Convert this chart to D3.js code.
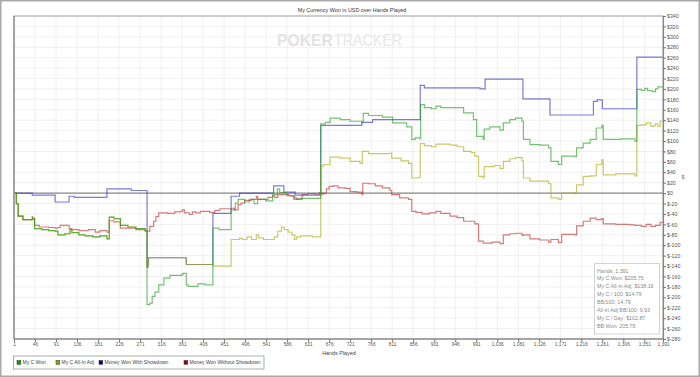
<!DOCTYPE html>
<html><head><meta charset="utf-8">
<script src="https://cdn.jsdelivr.net/npm/d3@7"></script>
<style>
html,body{margin:0;padding:0;background:#fff;}
svg{display:block;font-family:"Liberation Sans",Arial,sans-serif;}
</style></head>
<body>
<svg id="chart" width="700" height="377"></svg>
<script>
// ---------- DATA ----------
const chartTitle = "My Currency Won in USD over Hands Played";
const xTicks = [1,46,91,136,181,226,271,316,361,406,451,496,541,586,631,676,721,766,811,856,901,946,991,1036,1081,1126,1171,1216,1261,1306,1351,1391];
const yTicks = [340,320,300,280,260,240,220,200,180,160,140,120,100,80,60,40,20,0,-20,-40,-60,-80,-100,-120,-140,-160,-180,-200,-220,-240,-260,-280];
const seriesNames = ["My C Won","My C All-In Adj","Money Won With Showdown","Money Won Without Showdown"];

// My C Won: [hand, value]
const wonHands  = [1,6,10,20,41,45,60,75,89,95,110,121,125,140,153,170,185,200,205,215,229,245,262,282,286,292,297,303,311,322,335,361,363,370,374,395,410,427,440,466,475,481,495,505,515,523,540,555,565,570,585,600,610,640,658,668,678,700,721,746,749,760,790,810,812,842,853,860,871,872,880,895,905,915,950,964,985,992,1006,1008,1020,1042,1049,1063,1075,1089,1092,1106,1127,1146,1151,1167,1174,1203,1206,1220,1235,1248,1260,1263,1300,1331,1335,1345,1352,1358,1368,1375,1380,1391];
const wonValues = [0,-20,-44,-51,-49,-68,-70,-72,-73,-80,-78,-70,-76,-80,-82,-84,-82,-88,-46,-49,-62,-65,-68,-72,-214,-211,-198,-190,-176,-163,-158,-156,-154,-176,-179,-174,-176,-67,-70,-32,-19,-12,-17,-12,-20,-12,-15,-3,8,1,-5,-12,-10,-10,133,136,144,141,138,135,153,149,146,146,135,127,103,106,104,170,164,162,167,164,164,154,141,109,103,123,127,121,135,141,144,138,103,93,92,87,61,55,71,70,87,96,103,125,130,103,104,100,199,197,201,197,195,200,204,205.75];

// My C All-In Adj
const adjHands  = [1,6,10,20,41,45,60,75,89,95,110,121,125,140,153,170,185,200,205,215,229,245,262,282,286,288,289,370,427,466,484,490,500,510,520,525,535,559,566,574,580,588,596,602,606,615,640,658,664,678,700,721,742,747,760,806,810,830,846,853,867,871,880,895,905,935,950,964,980,988,996,1006,1008,1030,1042,1049,1063,1075,1089,1092,1106,1130,1146,1151,1167,1174,1203,1206,1220,1235,1248,1260,1263,1290,1310,1331,1335,1345,1355,1365,1372,1375,1380,1385,1391];
const adjValues = [0,-20,-44,-51,-49,-68,-70,-72,-73,-80,-78,-70,-76,-80,-82,-84,-82,-88,-46,-49,-62,-65,-68,-72,-142,-137,-124,-137,-140,-89,-87,-89,-84,-89,-80,-86,-89,-84,-73,-65,-70,-75,-80,-89,-84,-82,-84,52,55,69,67,61,57,80,76,77,67,62,57,29,30,95,91,89,94,92,89,80,78,71,32,29,51,53,47,61,66,68,62,29,23,23,18,-9,-12,0,1,16,32,33,55,64,35,37,37,33,130,131,135,128,130,133,128,138,138.19];

// Money Won With Showdown
const sdHands  = [1,40,89,119,130,200,252,284,286,288,289,370,427,466,484,557,579,603,658,746,769,871,880,999,1010,1091,1149,1242,1250,1261,1335,1391];
const sdValues = [0,-4,-17,-6,-8,8,5,5,-142,-137,-124,-137,-39,-6,0,14,2,-4,130,136,141,207,202,200,219,181,150,176,179,162,261,261];

// Money Won Without Showdown
const nsdHands  = [1,6,10,20,40,41,45,55,75,89,95,100,110,119,125,140,160,175,185,200,205,215,229,262,282,292,300,305,311,330,345,357,362,366,377,383,390,400,420,431,442,466,473,481,487,495,510,520,523,540,545,555,559,566,590,596,602,606,618,630,645,655,660,664,670,676,685,695,710,721,735,746,748,760,775,790,806,810,827,846,853,862,875,890,905,915,935,950,964,988,996,1006,1010,1025,1042,1049,1063,1075,1089,1092,1106,1127,1146,1151,1167,1174,1203,1206,1220,1235,1248,1260,1263,1290,1320,1331,1345,1355,1365,1375,1385,1391];
const nsdValues = [0,-20,-44,-51,-45,-48,-62,-65,-66,-67,-66,-62,-62,-68,-70,-72,-70,-75,-72,-75,-53,-55,-67,-70,-73,-64,-54,-45,-38,-39,-36,-35,-32,-38,-41,-36,-38,-35,-37,-33,-30,-29,-32,-22,-19,-14,-12,-6,-12,-12,-8,-5,-8,-3,-5,-6,-9,-12,-3,-1,-2,1,-2,0,8,13,14,10,9,3,2,-3,19,18,14,10,5,-3,-9,-12,-35,-37,-40,-38,-35,-39,-44,-47,-54,-59,-92,-96,-96,-94,-97,-80,-78,-77,-81,-80,-88,-90,-94,-89,-95,-79,-80,-63,-54,-48,-51,-49,-59,-60,-61,-62,-64,-60,-64,-62,-56,-56];

const statLines = ["Hands: 1,391","My C Won: $205.75","My C All-In Adj: $138.19","My C / 100: $14.79","BB/100: 14.79","All-In Adj BB/100: 9.93","My C / Day: $102.87","BB Won: 205.75"];

// ---------- DRAW ----------
const svg = d3.select("#chart");
const W = 700, H = 377;
const m = {left:14, right:663, top:16, bottom:339};
const x = d3.scaleLinear().domain([1,1391]).range([m.left, m.right]);
const y = d3.scaleLinear().domain([-280,340]).range([m.bottom, m.top]);

svg.append("rect").attr("x",0.75).attr("y",0.75).attr("width",W-1.5).attr("height",H-1.5)
  .attr("fill","#fff").attr("stroke","#a8a8a8").attr("stroke-width",1.5);

// title
svg.append("text").attr("x",352).attr("y",12).attr("text-anchor","middle")
  .attr("font-size",5.4).attr("fill","#333").text(chartTitle);

// grid
const grid = svg.append("g");
grid.selectAll("line.h").data(yTicks).join("line")
  .attr("x1",m.left).attr("x2",m.right).attr("y1",d=>y(d)).attr("y2",d=>y(d))
  .attr("stroke","#ececec").attr("stroke-width",0.8);
grid.selectAll("line.v").data(xTicks).join("line")
  .attr("y1",m.top).attr("y2",m.bottom).attr("x1",d=>x(d)).attr("x2",d=>x(d))
  .attr("stroke","#ececec").attr("stroke-width",0.8);

// watermark
svg.append("text").attr("x",277).attr("y",46).attr("font-size",17).attr("font-weight","bold")
  .attr("fill","#e3e3e3").attr("textLength",56).attr("lengthAdjust","spacingAndGlyphs").text("POKER");
svg.append("text").attr("x",334).attr("y",46).attr("font-size",17)
  .attr("fill","#e8e8e8").attr("textLength",68).attr("lengthAdjust","spacingAndGlyphs").text("TRACKER");

// zero line
svg.append("line").attr("x1",m.left).attr("x2",m.right).attr("y1",y(0)).attr("y2",y(0))
  .attr("stroke","#8a8a8a").attr("stroke-width",1.4);

// series
const line = d3.line().x(d=>x(d[0])).y(d=>y(d[1])).curve(d3.curveStepAfter);
const zip = (h,v)=>h.map((hh,i)=>[hh,v[i]]);
const series = [
  {name:seriesNames[3], data:zip(nsdHands,nsdValues), color:"#c02a2a"},
  {name:seriesNames[2], data:zip(sdHands,sdValues), color:"#2a2ac0"},
  {name:seriesNames[1], data:zip(adjHands,adjValues), color:"#aaaa10"},
  {name:seriesNames[0], data:zip(wonHands,wonValues), color:"#1e9e1e"}
];
svg.append("g").selectAll("path").data(series).join("path")
  .attr("d",d=>line(d.data)).attr("fill","none").attr("stroke",d=>d.color)
  .attr("stroke-opacity",0.62).attr("stroke-width",1.2);

// plot border
svg.append("rect").attr("x",m.left).attr("y",m.top).attr("width",m.right-m.left).attr("height",m.bottom-m.top)
  .attr("fill","none").attr("stroke","#a0a0a0").attr("stroke-width",1);
svg.append("line").attr("x1",m.left).attr("x2",m.left).attr("y1",m.top).attr("y2",m.bottom)
  .attr("stroke","#999").attr("stroke-width",1.6);
svg.append("line").attr("x1",m.left).attr("x2",m.right).attr("y1",m.bottom).attr("y2",m.bottom)
  .attr("stroke","#999").attr("stroke-width",1.4);

// right axis
const yAxis = svg.append("g").attr("transform",`translate(${m.right},0)`)
  .call(d3.axisRight(y).tickValues(yTicks).tickSize(3).tickSizeOuter(0).tickPadding(1).tickFormat(d=>"$"+d));
yAxis.select(".domain").attr("stroke","#888").attr("stroke-width",1.2);
yAxis.selectAll(".tick line").attr("stroke","#777");
yAxis.selectAll("text").attr("font-size",5.2).attr("fill","#555").attr("font-family","Liberation Sans, Arial, sans-serif");

// bottom axis
const xAxis = svg.append("g").attr("transform",`translate(0,${m.bottom})`)
  .call(d3.axisBottom(x).tickValues(xTicks).tickSize(3).tickSizeOuter(0).tickPadding(1).tickFormat(d3.format(",")));
xAxis.select(".domain").remove();
xAxis.selectAll(".tick line").attr("stroke","#777");
xAxis.selectAll("text").attr("font-size",4.8).attr("fill","#555").attr("font-family","Liberation Sans, Arial, sans-serif");

svg.append("text").attr("x",339).attr("y",355).attr("text-anchor","middle")
  .attr("font-size",5.4).attr("fill","#444").text("Hands Played");
svg.append("text").attr("x",683).attr("y",179).attr("text-anchor","middle")
  .attr("font-size",4.5).attr("fill","#555").text("$");

// legend
const lg = svg.append("g");
lg.append("rect").attr("x",13.5).attr("y",356).attr("width",250.5).attr("height",13)
  .attr("fill","#fff").attr("stroke","#999").attr("stroke-width",0.8);
const legendItems = [
  {name:seriesNames[0], color:"#00a000", x:17},
  {name:seriesNames[1], color:"#a0a000", x:56},
  {name:seriesNames[2], color:"#0000a0", x:99},
  {name:seriesNames[3], color:"#a00000", x:184}
];
const li = lg.selectAll("g.item").data(legendItems).join("g").attr("transform",d=>`translate(${d.x},360.5)`);
li.append("rect").attr("width",3.8).attr("height",3.8).attr("fill",d=>d.color).attr("stroke","#333").attr("stroke-width",0.5);
li.append("text").attr("x",5.5).attr("y",3.6).attr("font-size",5).attr("fill","#444").text(d=>d.name);

// stats box
const sb = svg.append("g");
sb.append("rect").attr("x",594.5).attr("y",263.5).attr("width",65).attr("height",70.5)
  .attr("fill","#fff").attr("stroke","#c8c8c8").attr("stroke-width",0.8);
sb.selectAll("text").data(statLines).join("text")
  .attr("x",597).attr("y",(d,i)=>272.5+i*7.9).attr("font-size",5.3).attr("fill","#8a8a8a").text(d=>d);
</script>
</body></html>
